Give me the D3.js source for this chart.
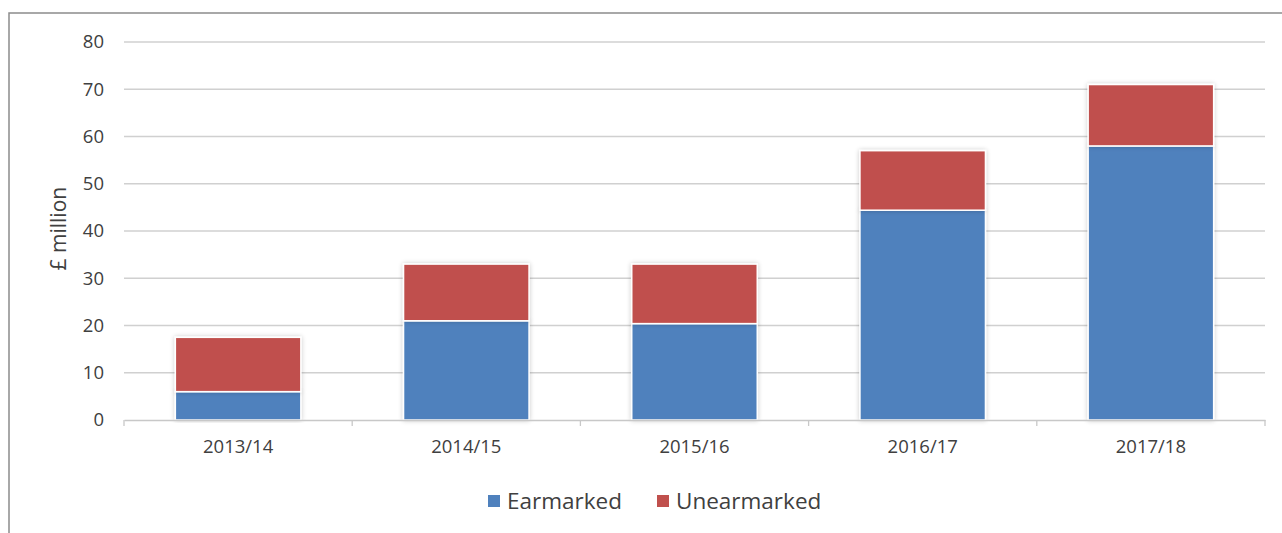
<!DOCTYPE html>
<html>
<head>
<meta charset="utf-8">
<script src="https://cdn.jsdelivr.net/npm/d3@7"></script>
<style>
  body { margin: 0; background: #fff; }
  svg { display: block; font-family: "Open Sans", sans-serif; }
</style>
</head>
<body>
<svg id="chart" width="1282" height="533"></svg>
<script>
// chart data
var years = ["2013/14", "2014/15", "2015/16", "2016/17", "2017/18"];
var earmarked = [6, 21, 20.4, 44.4, 58];
var unearmarked = [11.5, 12, 12.6, 12.6, 13];
var seriesNames = ["Earmarked", "Unearmarked"];
var seriesColors = ["#4f81bd", "#c0504d"];
var yTicks = [0, 10, 20, 30, 40, 50, 60, 70, 80];

var svg = d3.select("#chart");
var width = 1282, height = 533;
var margin = {left: 124, right: 17, top: 42, bottom: 113};

// outer frame (cut off at right and bottom, like the picture)
svg.append("rect")
    .attr("x", 9).attr("y", 13)
    .attr("width", 1300).attr("height", 600)
    .attr("fill", "none").attr("stroke", "#8c8c8c").attr("stroke-width", 1.5);

var defs = svg.append("defs");
var f = defs.append("filter").attr("id", "shadow")
    .attr("x", "-10%").attr("y", "-10%").attr("width", "120%").attr("height", "120%");
f.append("feGaussianBlur").attr("in", "SourceAlpha").attr("stdDeviation", 2.5);
f.append("feComponentTransfer").append("feFuncA").attr("type", "linear").attr("slope", 0.22);
var fm = f.append("feMerge");
fm.append("feMergeNode");
fm.append("feMergeNode").attr("in", "SourceGraphic");

var x = d3.scaleBand()
    .domain(years)
    .range([margin.left, width - margin.right])
    .paddingInner(0.45).paddingOuter(0.225);

var y = d3.scaleLinear()
    .domain([0, 80])
    .range([height - margin.bottom, margin.top]);

// grid lines
svg.append("g")
    .selectAll("line")
    .data(yTicks.filter(function (d) { return d > 0; }))
    .join("line")
    .attr("x1", margin.left).attr("x2", width - margin.right)
    .attr("y1", function (d) { return y(d); })
    .attr("y2", function (d) { return y(d); })
    .attr("stroke", "#d0d0d0").attr("stroke-width", 1.3);

// y axis labels
var yAxis = d3.axisLeft(y).tickValues(yTicks).tickSize(0).tickPadding(20);
var gy = svg.append("g").attr("transform", "translate(" + margin.left + ",0)").call(yAxis);
gy.select(".domain").remove();
gy.selectAll("text").attr("font-size", 18.5).attr("fill", "#404040")
    .attr("font-family", "Open Sans, sans-serif");

// stacked bars
var rows = years.map(function (yr, i) {
    return {year: yr, Earmarked: earmarked[i], Unearmarked: unearmarked[i]};
});
var stack = d3.stack().keys(seriesNames)(rows);

svg.append("g")
    .selectAll("g")
    .data(stack)
    .join("g")
    .attr("fill", function (d, i) { return seriesColors[i]; })
    .selectAll("rect")
    .data(function (d) { return d; })
    .join("rect")
    .attr("x", function (d) { return x(d.data.year); })
    .attr("width", x.bandwidth())
    .attr("y", function (d) { return y(d[1]); })
    .attr("height", function (d) { return y(d[0]) - y(d[1]); })
    .attr("stroke", "#fff").attr("stroke-width", 1.5)
    .attr("filter", "url(#shadow)");

// x axis
var xAxis = d3.axisBottom(x).tickSize(0).tickPadding(20);
var gx = svg.append("g").attr("transform", "translate(0," + y(0) + ")").call(xAxis);
gx.select(".domain").attr("stroke", "#c8c8c8").attr("stroke-width", 1.3);
gx.selectAll("text").attr("font-size", 18.5).attr("fill", "#404040")
    .attr("font-family", "Open Sans, sans-serif");
// category boundary ticks
var bounds = years.map(function (d) { return x(d) - x.step() * x.paddingInner() / 2; });
bounds.push(width - margin.right);
gx.selectAll(".bound")
    .data(bounds)
    .join("line")
    .attr("class", "bound")
    .attr("x1", function (d) { return d; }).attr("x2", function (d) { return d; })
    .attr("y1", 0).attr("y2", 6)
    .attr("stroke", "#c8c8c8").attr("stroke-width", 1.3);

// y axis title
svg.append("text")
    .attr("transform", "translate(66," + y(40.5) + ") rotate(-90)")
    .attr("text-anchor", "middle")
    .attr("font-size", 21).attr("fill", "#404040")
    .text("£ million");

// legend
var legend = svg.append("g").attr("transform", "translate(488,501)");
var legendX = [0, 169];
seriesNames.forEach(function (name, i) {
    var g = legend.append("g").attr("transform", "translate(" + legendX[i] + ",0)");
    g.append("rect").attr("x", 0).attr("y", -6).attr("width", 12).attr("height", 12)
        .attr("fill", seriesColors[i]);
    g.append("text").attr("x", 19).attr("y", 0).attr("dy", "0.35em")
        .attr("font-size", 22.5).attr("fill", "#404040").text(name);
});
</script>
</body>
</html>
